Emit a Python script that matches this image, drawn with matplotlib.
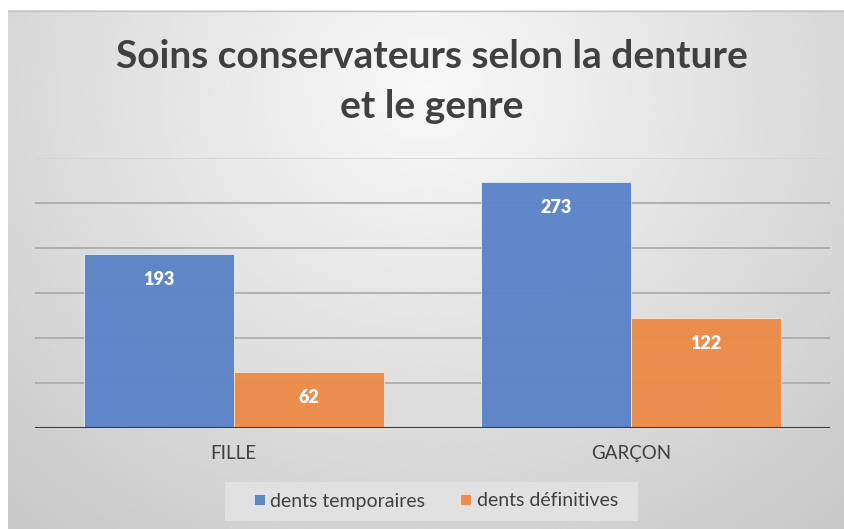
import numpy as np
import matplotlib.pyplot as plt
from matplotlib.patches import Rectangle

# Donnees du graphique
categories = ['FILLE', 'GARÇON']
dents_temporaires = [193, 273]
dents_definitives = [62, 122]
series_noms = ['dents temporaires', 'dents définitives']
couleurs = ['#5B84C8', '#EC8B47']

W, H = 845, 529
fig = plt.figure(figsize=(W / 100, H / 100), dpi=100)
fig.patch.set_facecolor('white')
police = 'Lato'

# fond degrade (radial, clair en haut au centre, gris sur les bords)
bg = fig.add_axes([8 / W, 0, 1 - 8 / W, 1 - 10 / H])
yy, xx = np.mgrid[0:1:300j, 0:1:500j]
d = np.sqrt(((xx - 0.5) / 0.75) ** 2 + ((yy - 0.15) / 1.1) ** 2)
d = np.clip(d, 0, 1)
grad = 0.975 - 0.19 * d
bg.imshow(grad, cmap='gray', vmin=0, vmax=1, aspect='auto',
          extent=[0, 1, 1, 0], interpolation='bilinear')
bg.axhline(0.0015, color='#c4c4c4', lw=1)
bg.set_axis_off()

# zone de trace
ax = fig.add_axes([35 / W, 1 - 428 / H, (830 - 35) / W, (428 - 158) / H])
ax.set_facecolor('none')
x = np.arange(len(categories))
largeur = 0.377

for yv in range(50, 301, 50):
    ax.axhline(yv, color='#a8a8a8' if yv < 300 else '#d4d4d4', lw=1.2, zorder=1)

b1 = ax.bar(x - largeur / 2, dents_temporaires, largeur, color=couleurs[0],
            edgecolor='#e8eef8', linewidth=0.6, label=series_noms[0], zorder=2, alpha=0.97)
b2 = ax.bar(x + largeur / 2, dents_definitives, largeur, color=couleurs[1],
            edgecolor='#f8e6d8', linewidth=0.6, label=series_noms[1], zorder=2, alpha=0.97)

for barres in (b1, b2):
    for b in barres:
        ax.annotate(str(int(b.get_height())),
                    (b.get_x() + b.get_width() / 2, b.get_height()),
                    xytext=(0, -24), textcoords='offset points',
                    ha='center', va='bottom', color='white',
                    fontsize=13, fontweight='heavy', family=police, zorder=3)

ax.axhline(0, color='#3a3a3a', lw=2.2, zorder=4)
ax.set_xlim(-0.5, 1.5)
ax.set_ylim(0, 300)
ax.set_yticks([])
ax.set_xticks(x)
ax.set_xticklabels(categories, fontsize=13.5, color='#404040', family=police)
ax.tick_params(axis='x', length=0, pad=12)
for s in ax.spines.values():
    s.set_visible(False)

# titre
fig.text(432 / W, 1 - 56 / H, 'Soins conservateurs selon la denture',
         ha='center', va='center', fontsize=28, fontweight='bold',
         color='#404040', family=police)
fig.text(432 / W, 1 - 106 / H, 'et le genre',
         ha='center', va='center', fontsize=28, fontweight='bold',
         color='#404040', family=police)

# legende
fig.patches.append(Rectangle((225 / W, 1 - 521 / H), (638 - 225) / W, 39 / H,
                             transform=fig.transFigure, facecolor='#e1e1e1',
                             edgecolor='none', zorder=1))
leg = fig.legend(handles=[b1, b2], labels=series_noms, loc='center',
                 bbox_to_anchor=(436 / W, 1 - 501 / H), ncol=2, frameon=False,
                 prop={'family': police, 'size': 14},
                 handlelength=0.55, handleheight=0.55, handletextpad=0.3,
                 columnspacing=1.8)
for t in leg.get_texts():
    t.set_color('#404040')

fig.savefig('out.png', dpi=100)
